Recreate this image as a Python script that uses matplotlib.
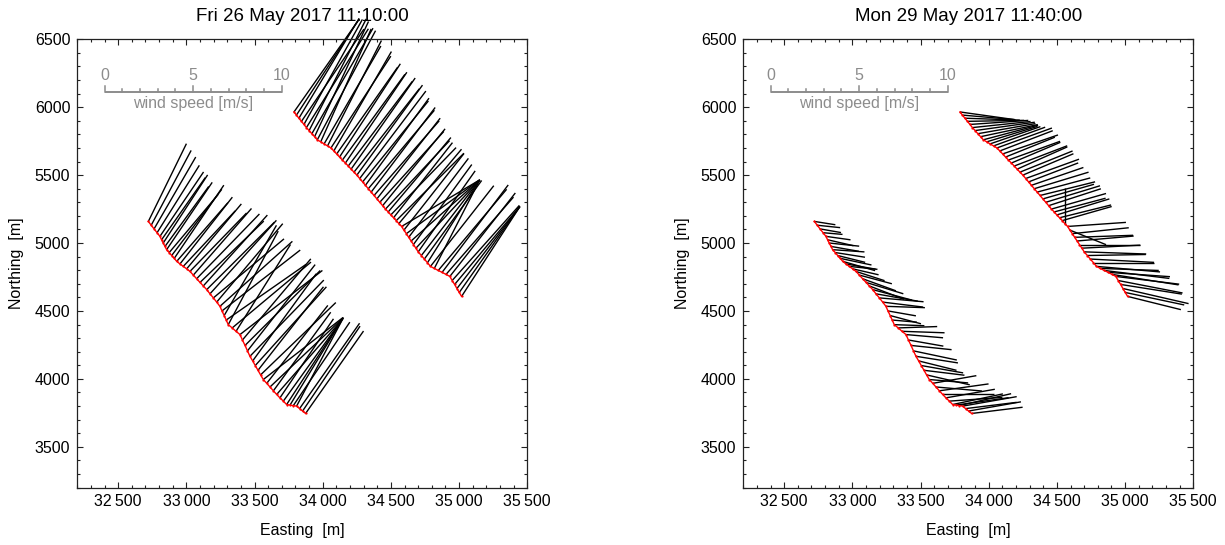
import numpy as np
import matplotlib
matplotlib.use('Agg')
import matplotlib.pyplot as plt
from matplotlib.collections import LineCollection
from matplotlib.ticker import MultipleLocator, FixedLocator, FuncFormatter

plt.rcParams['font.family'] = ['Liberation Sans', 'DejaVu Sans']

# ---------------- data ----------------
titles = ['Fri 26 May 2017 11:10:00', 'Mon 29 May 2017 11:40:00']
x_ticks = [32500, 33000, 33500, 34000, 34500, 35000, 35500]
y_ticks = [3500, 4000, 4500, 5000, 5500, 6000, 6500]
scale_ticks = [0, 5, 10]
scale_label = 'wind speed [m/s]'

# western (lower) track
track_a_x = [32721, 32742, 32763, 32785, 32806, 32818, 32830, 32843, 32855, 32874,
             32892, 32911, 32929, 32953, 32977, 33002, 33026, 33051, 33075, 33100,
             33124, 33149, 33173, 33198, 33222, 33246, 33261, 33277, 33292, 33307,
             33336, 33364, 33393, 33411, 33430, 33448, 33466, 33486, 33505, 33525,
             33544, 33564, 33589, 33613, 33638, 33662, 33686, 33711, 33735, 33760,
             33784, 33808, 33830, 33852, 33874]
track_a_y = [5159, 5131, 5104, 5076, 5049, 5024, 5000, 4975, 4951, 4930,
             4908, 4887, 4865, 4846, 4828, 4810, 4791, 4764, 4737, 4710,
             4684, 4657, 4626, 4596, 4565, 4534, 4500, 4466, 4433, 4399,
             4375, 4350, 4326, 4286, 4246, 4206, 4166, 4132, 4098, 4063,
             4029, 3995, 3967, 3940, 3912, 3885, 3860, 3836, 3811, 3807,
             3803, 3799, 3781, 3763, 3745]

# eastern (upper) track
track_b_x = [33789, 33807, 33825, 33844, 33862, 33880, 33900, 33920, 33940, 33960,
             33985, 34010, 34035, 34060, 34081, 34102, 34123, 34144, 34166, 34187,
             34208, 34229, 34250, 34271, 34292, 34313, 34334, 34355, 34376, 34397,
             34418, 34439, 34460, 34480, 34499, 34519, 34539, 34558, 34578, 34595,
             34613, 34630, 34648, 34665, 34683, 34700, 34723, 34745, 34768, 34790,
             34818, 34847, 34875, 34904, 34932, 34949, 34967, 34984, 35001, 35018]
track_b_y = [5965, 5942, 5919, 5896, 5873, 5850, 5828, 5805, 5783, 5760,
             5745, 5730, 5715, 5700, 5678, 5656, 5633, 5611, 5589, 5567,
             5544, 5522, 5500, 5475, 5450, 5425, 5400, 5375, 5350, 5325,
             5300, 5275, 5250, 5229, 5207, 5186, 5165, 5143, 5122, 5095,
             5069, 5042, 5015, 4989, 4962, 4935, 4908, 4882, 4855, 4828,
             4813, 4798, 4784, 4769, 4754, 4724, 4695, 4665, 4636, 4607]

# wind speed [m/s] and direction the wind blows toward [deg from north]
fri_a_speed = [4.9, 4.8, 4.7, 4.5, 4.4, 4.3, 4.6, 4.2, 4.6, 4.3,
               4.7, 5.0, 4.4, 4.8, 4.3, 4.8, 4.6, 5.0, 5.1, 5.0,
               5.4, 5.4, 5.6, 5.2, 5.8, 5.5, 5.6, 5.9, 5.5, 6.0,
               5.8, 5.8, 5.9, 6.0, 6.0, 6.2, 6.0, 6.1, 6.0, 6.0,
               5.9, 5.7, 5.6, 5.7, 5.5, 5.7, 5.4, 5.8, 5.6, 5.8,
               5.7, 5.6, 5.9, 5.8, 5.7]
fri_a_dir = [26, 28, 30, 32, 34, 35, 33, 36, 34, 40,
             37, 34, 41, 38, 43, 40, 44, 41, 44, 46,
             42, 45, 42, 50, 40, 48, 52, 30, 55, 28,
             50, 32, 52, 40, 45, 38, 44, 36, 42, 38,
             46, 52, 38, 46.5, 36, 41, 34, 35.6, 33, 31.3,
             34, 27.8, 35, 34, 35]

fri_b_speed = [6.3, 6.5, 6.6, 6.3, 6.8, 6.6, 7.1, 6.9, 7.2, 7.0,
               7.0, 6.4, 6.7, 6.2, 6.5, 6.0, 6.3, 6.0, 6.2, 6.0,
               6.3, 6.0, 6.3, 6.2, 5.9, 6.1, 5.8, 6.0, 5.6, 5.8,
               5.4, 5.6, 5.3, 5.5, 5.3, 5.4, 5.4, 5.5, 5.1, 5.5,
               5.1, 5.6, 5.2, 5.6, 5.3, 5.6, 5.4, 5.5, 5.55, 5.8,
               5.6, 6.0, 6.2, 5.8, 6.0, 5.7, 5.75, 5.85, 5.95, 6.05]
fri_b_dir = [35, 33, 31, 34, 29, 32, 27, 30, 25, 28,
             24, 30, 27, 33, 30, 35, 33, 36, 34, 37,
             35, 38, 36, 37, 39, 36, 40, 37, 41, 38,
             42, 39, 43, 40, 44, 38, 45, 40, 59.1, 38,
             53.6, 37, 48.2, 36, 43, 35, 37.6, 36, 32.1, 38,
             27.1, 40, 37, 41, 38, 41.7, 39.8, 37.4, 35.1, 32.9]

mon_a_speed = [1.2, 1.3, 1.2, 1.1, 1.4, 1.5, 1.7, 1.6, 1.8, 1.7,
               1.6, 1.8, 1.9, 1.7, 1.6, 1.5, 1.7, 1.9, 2.0, 2.2,
               2.1, 2.3, 2.4, 2.5, 2.3, 2.2, 1.6, 1.8, 1.4, 1.7,
               2.2, 2.4, 2.1, 2.0, 2.3, 2.5, 2.4, 2.2, 2.4, 2.3,
               2.5, 2.2, 2.5, 2.6, 2.8, 2.9, 2.8, 3.0, 2.9, 3.0,
               3.0, 3.1, 2.9, 3.0, 2.9]
mon_a_dir = [99, 96, 100, 95, 98, 103, 96, 100, 94, 99,
             104, 102, 106, 100, 96, 103, 108, 105, 110, 107,
             111, 105, 100, 95, 97, 92, 100, 105, 95, 92,
             88, 92, 95, 100, 96, 102, 99, 104, 100, 97,
             103, 95, 80, 95, 82, 90, 80, 86, 78, 82,
             77, 80, 83, 80, 83]

mon_b_speed = [3.1, 3.0, 3.1, 3.2, 3.3, 3.3, 3.4, 3.3, 3.3, 3.2,
               3.0, 3.0, 3.1, 3.3, 3.2, 3.3, 3.0, 3.1, 3.0, 3.2,
               3.1, 3.2, 3.1, 3.2, 3.0, 3.1, 3.2, 3.1, 3.2, 3.0,
               3.2, 3.1, 3.2, 3.0, 3.1, 3.0, 2.9, 2.0, 3.3, 2.2,
               3.2, 3.3, 3.2, 3.4, 3.3, 3.5, 3.3, 3.6, 3.4, 3.6,
               3.3, 3.7, 3.5, 3.8, 3.6, 3.7, 3.5, 3.8, 3.4, 3.1]
mon_b_dir = [98, 95, 92, 89, 86, 84, 82, 80, 78, 75,
             73, 71, 70, 70, 69, 71, 68, 70, 67, 69,
             66, 68, 67, 70, 69, 71, 73, 75, 76, 74,
             73, 72, 74, 75, 73, 76, 74, 0, 86, 112,
             84, 88, 85, 90, 87, 92, 89, 93, 90, 95,
             92, 97, 94, 99, 97, 101, 99, 103, 102, 104]

panels = [
    [(fri_a_speed, fri_a_dir), (fri_b_speed, fri_b_dir)],
    [(mon_a_speed, mon_a_dir), (mon_b_speed, mon_b_dir)],
]
tracks = [(track_a_x, track_a_y), (track_b_x, track_b_y)]

# ---------------- style ----------------
M_PER_MS = 130.0          # vector length in metres per m/s
GRAY = '#8c8c8c'
FS = 11.5
W, H = 1225, 545

fig = plt.figure(figsize=(W / 100, H / 100), dpi=100)
ax_left_px = [77.3, 743.3]


def xfmt(v, pos):
    v = int(round(v))
    return f"{v // 1000}\u2009{v % 1000:03d}"


for k, left_px in enumerate(ax_left_px):
    ax = fig.add_axes([left_px / W, (H - 487.5) / H, 450 / W, 448.2 / H])
    ax.set_xlim(32200, 35500)
    ax.set_ylim(3200, 6500)

    # wind vectors
    for (tx, ty), (spd, dirn) in zip(tracks, panels[k]):
        tx = np.asarray(tx, float)
        ty = np.asarray(ty, float)
        s = np.asarray(spd, float)
        d = np.deg2rad(np.asarray(dirn, float))
        u = s * np.sin(d)
        v = s * np.cos(d)
        segs = [[(x0, y0), (x0 + uu * M_PER_MS, y0 + vv * M_PER_MS)]
                for x0, y0, uu, vv in zip(tx, ty, u, v)]
        lc = LineCollection(segs, colors='black', linewidths=1.0, zorder=2)
        lc.set_clip_on(False)
        ax.add_collection(lc)
        ax.plot(tx, ty, color='red', lw=1.0, marker='o', ms=1.6,
                mew=0, zorder=3)

    # scale bar
    x0, yb = 32400, 6112
    ax.plot([x0, x0 + 10 * M_PER_MS], [yb, yb], color=GRAY, lw=1.4,
            solid_capstyle='butt', zorder=4)
    for t in range(0, 11):
        h = 42 if t in scale_ticks else 22
        ax.plot([x0 + t * M_PER_MS] * 2, [yb, yb + h], color=GRAY, lw=1.1,
                zorder=4)
    for t in scale_ticks:
        ax.annotate(str(t), xy=(x0 + t * M_PER_MS, yb), xytext=(0, 6.5),
                    textcoords='offset points', ha='center', va='bottom',
                    color=GRAY, fontsize=FS)
    ax.annotate(scale_label, xy=(x0 + 5 * M_PER_MS, yb), xytext=(0, -3),
                textcoords='offset points', ha='center', va='top',
                color=GRAY, fontsize=FS)

    # axes cosmetics
    ax.xaxis.set_major_locator(FixedLocator(x_ticks))
    ax.yaxis.set_major_locator(FixedLocator(y_ticks))
    ax.xaxis.set_minor_locator(MultipleLocator(100))
    ax.yaxis.set_minor_locator(MultipleLocator(100))
    ax.xaxis.set_major_formatter(FuncFormatter(xfmt))
    ax.tick_params(which='both', direction='in', top=True, right=True,
                   labelsize=FS, pad=5, width=0.8, color='#222222')
    ax.tick_params(which='major', length=4.3)
    ax.tick_params(which='minor', length=2.4)
    for sp in ax.spines.values():
        sp.set_linewidth(0.9)
        sp.set_color('#222222')
    ax.set_xlabel('Easting  [m]', fontsize=FS, labelpad=10)
    ax.set_ylabel('Northing  [m]', fontsize=FS, labelpad=8)
    ax.set_title(titles[k], fontsize=13.5, pad=13)

fig.savefig('out.png', dpi=100)
